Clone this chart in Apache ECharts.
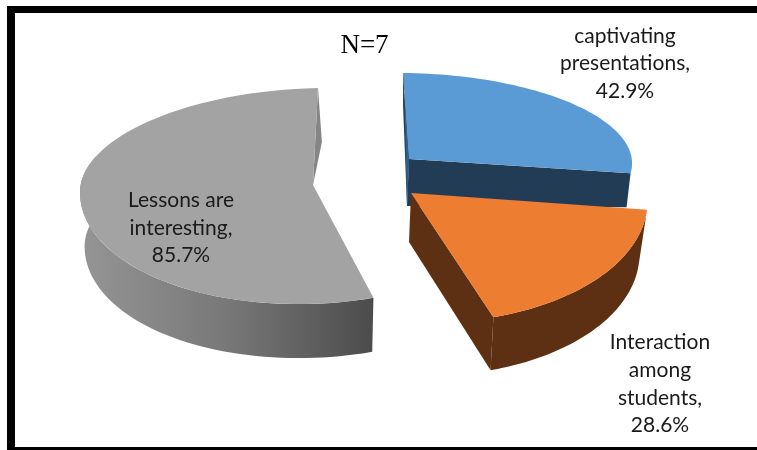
<!DOCTYPE html>
<html><head><meta charset="utf-8">
<style>html,body{margin:0;padding:0;background:#fff}#c{width:757px;height:450px}</style>
<script src="https://cdn.jsdelivr.net/npm/echarts@6/dist/echarts.min.js"></script>
</head><body><div id="c"></div>
<script>
const categoryNames = ['captivating\npresentations,', 'Interaction\namong\nstudents,', 'Lessons are\ninteresting,'];
const seriesValues = [42.9, 28.6, 85.7];
const chartNote = 'N=7';

const rimSteps = 60;
const total = seriesValues.reduce((a, b) => a + b, 0);
const rad = d => d * Math.PI / 180;
const gray = (a, b, c) => new echarts.graphic.LinearGradient(0, 0, 1, 0, [
  {offset: 0, color: a}, {offset: .5, color: b}, {offset: 1, color: c}]);

// Perspective-like projection for each exploded slice (drawing layout only).
const layout = [
  {cx: 409, cy: 159, rx: 223, ryB: 86, ryF: 86, tilt: -6, skew: 2, apexD: 47, rimD: 34, shrink: .018,
   top: '#5b9bd5', wall: '#24405a', startFace: '#2f5f8f', endFace: '#233c55', showStart: true, showEnd: true,
   wallFrom: 0, wallTo: 0, label: [625, 63.5]},
  {cx: 411, cy: 193, rx: 236, ryB: 130, ryF: 130, tilt: -17, skew: -2, apexD: 49, rimD: 53, shrink: .034,
   top: '#ed7d31', wall: '#5e3013', endFace: '#5e3013', showStart: false, showEnd: true,
   wallFrom: null, wallTo: null, label: [660, 384]},
  {cx: 313, cy: 185, rx: 233, ryB: 97, ryF: 119, tilt: 5, skew: -5, apexD: 54, rimD: 54, shrink: .02,
   top: '#a3a3a3', wall: gray('#959595', '#787878', '#4c4c4c'), endFace: '#858585', showStart: false, showEnd: true,
   wallFrom: null, wallTo: 290, faceShift: 4, label: [181, 228]}
];

function rimPoint(g, t) {
  const c = Math.cos(rad(t)), s = Math.sin(rad(t));
  return [g.cx + g.rx * s + g.tilt * c, g.cy - (c >= 0 ? g.ryB : g.ryF) * c + g.skew * s];
}
function dropPoint(g, p) {
  return [p[0] - (p[0] - g.cx) * g.shrink, p[1] + g.rimD];
}
function sweep(g, from, to) {
  const pts = [];
  for (let i = 0; i <= rimSteps; i++) pts.push(rimPoint(g, from + (to - from) * i / rimSteps));
  return pts;
}
const startAngles = seriesValues.map((_, i) =>
  seriesValues.slice(0, i).reduce((a, b) => a + b, 0) / total * 360);

function renderSlice(params, api) {
  const i = params.dataIndex, g = layout[i];
  const from = startAngles[i], to = from + api.value(1) / total * 360;
  const kids = [];
  const apex = [g.cx, g.cy];
  const apexLow = [g.cx - 2, g.cy + g.apexD];
  const poly = (points, fill) => kids.push({type: 'polygon', shape: {points}, style: {fill, stroke: null}});
  if (g.showEnd) {
    const p = rimPoint(g, to);
    const low = dropPoint(g, p);
    if (g.faceShift) poly([apex, p, [low[0] + g.faceShift, low[1]]], g.endFace);
    else poly([apex, p, low, apexLow], g.endFace);
  }
  if (g.showStart) {
    const p = rimPoint(g, from);
    poly([apex, p, dropPoint(g, p), apexLow], g.endFace);
  }
  if (g.wallFrom === null || g.wallTo === null) {
    const w0 = g.wallFrom === null ? from : g.wallFrom;
    const w1 = g.wallTo === null ? to : g.wallTo;
    const rim = sweep(g, w0, w1);
    poly(rim.concat(rim.map(p => dropPoint(g, p)).reverse()), g.wall);
  }
  poly([apex].concat(sweep(g, from, to)), g.top);
  if (g.showStart && i === 0) {
    const p = rimPoint(g, from);
    poly([p, apex, apexLow, [p[0] + 1, p[1] + 6]], g.startFace);
  }
  kids.push({
    type: 'text', z2: 10,
    style: {
      text: categoryNames[i] + '\n' + api.value(1).toFixed(1) + '%',
      x: g.label[0], y: g.label[1], align: 'center', verticalAlign: 'middle',
      font: '21px Lato', lineHeight: 27.7, fill: '#1a1a1a'
    }
  });
  return {type: 'group', children: kids};
}

const bar = (x, y, width, height) => ({type: 'rect', silent: true, shape: {x, y, width, height}, style: {fill: '#000'}});

const chart = echarts.init(document.getElementById('c'), null, {renderer: 'canvas'});
chart.setOption({
  animation: false,
  backgroundColor: '#fff',
  graphic: [
    bar(7, 6, 750, 7), bar(7, 6, 8, 441), bar(7, 447, 750, 3),
    {type: 'text', silent: true, style: {text: chartNote, x: 364.5, y: 45.5, align: 'center', verticalAlign: 'middle',
      font: '27px "Liberation Serif"', fill: '#000'}}
  ],
  series: [{
    type: 'custom', coordinateSystem: 'none', renderItem: renderSlice, silent: true,
    data: seriesValues.map((v, i) => [i, v])
  }]
});
</script></body></html>
